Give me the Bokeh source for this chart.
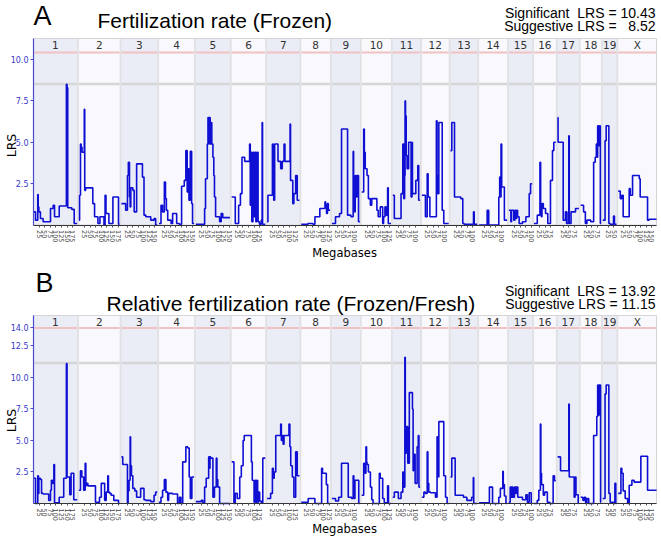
import math
from bokeh.plotting import figure
from bokeh.models import Range1d, FixedTicker, Label, NumeralTickFormatter
from bokeh.layouts import column
from bokeh.embed import file_html
from bokeh.resources import INLINE
from bokeh.core.properties import value

# ---------------- data ----------------
chrom_names = ["1", "2", "3", "4", "5", "6", "7", "8", "9", "10",
               "11", "12", "13", "14", "15", "16", "17", "18", "19", "X"]
chrom_len = [195, 182, 160, 157, 152, 150, 145, 129, 125, 131,
             122, 120, 120, 125, 104, 98, 95, 91, 61, 171]

sig_frozen, sugg_frozen = 10.43, 8.52
sig_ratio, sugg_ratio = 13.92, 11.15

yticks_frozen = [2.5, 5.0, 7.5, 10.0]
yticks_ratio = [2.5, 5.0, 7.5, 10.0, 12.5, 14.0]

# Panel A: Fertilization rate (Frozen) -- marker position (Mb) and LRS per chromosome
frozen_pos = {
    "1": [0, 9, 19, 21, 24, 31, 43, 76, 88, 94, 115, 147, 150, 153, 171, 182],
    "2": [0, 3, 7, 10, 14, 22, 24, 26, 30, 62, 70, 85, 94, 112, 117, 121, 124, 134, 152, 177],
    "3": [0, 19, 27, 31, 36, 39, 42, 51, 57, 68, 94, 101, 109, 131, 146, 153],
    "4": [0, 9, 16, 24, 29, 33, 39, 54, 61, 79, 91, 101, 113, 120, 126, 130, 134, 140, 146, 150],
    "5": [0, 39, 43, 51, 54, 57, 60, 64, 69, 71, 76, 80, 83, 88, 106, 113, 120, 128],
    "6": [0, 16, 31, 39, 46, 58, 80, 83, 86, 90, 95, 100, 104, 108, 112, 118, 124, 132, 136, 138],
    "7": [0, 4, 24, 27, 30, 34, 49, 61, 68, 76, 80, 103, 105, 108, 115, 120, 128, 135],
    "8": [0, 30, 52, 61, 68, 83, 91, 106, 109, 113, 117, 121],
    "9": [0, 16, 25, 34, 43, 70, 85, 95, 97, 101, 104, 108, 112, 119],
    "10": [0, 9, 12, 16, 24, 30, 39, 45, 68, 74, 83, 94, 98, 104, 110, 116, 119],
    "11": [0, 7, 15, 37, 45, 49, 53, 55, 57, 60, 64, 71, 82, 86, 88, 94, 103, 112, 116],
    "12": [0, 16, 24, 28, 36, 65, 68, 71, 76, 91, 98],
    "13": [0, 6, 18, 28, 46, 55, 61, 103, 106],
    "14": [0, 36, 43, 88, 92, 95, 98, 101, 106, 113],
    "15": [0, 9, 12, 16, 22, 27, 31, 35, 39, 46, 61, 76, 91, 97],
    "16": [0, 15, 27, 30, 33, 36, 42, 52, 62, 74, 83, 89],
    "17": [0, 2, 25, 35, 40, 48, 50, 52, 60, 70, 80],
    "18": [0, 13, 21, 28, 45, 58, 65, 70, 73, 76, 80, 84, 88],
    "19": [0, 10, 15, 27, 33, 48, 52],
    "X": [0, 9, 16, 22, 49, 54, 64, 94, 98, 131, 138],
}
frozen_lrs = {
    "1": [0.8, 0.3, 1.85, 1.1, 0.8, 0.4, 0.2, 1.0, 1.2, 0.5, 1.15, 8.5, 8.3, 1.05, 0.95, 0.1],
    "2": [0.3, 1.8, 4.9, 4.7, 4.4, 4.4, 7.0, 2.1, 2.25, 1.3, 0.5, 0.1, 0.5, 0.0, 1.8, 0.7, 0.7, 0.1, 1.7, 0.05],
    "3": [1.3, 0.9, 3.0, 3.8, 1.7, 1.1, 2.25, 2.1, 0.8, 3.7, 2.9, 0.6, 0.5, 0.3, 0.4, 0.0],
    "4": [0.1, 1.2, 0.8, 2.6, 1.6, 0.9, 0.3, 0.1, 0.7, 0.1, 0.05, 2.35, 2.7, 4.5, 2.0, 3.4, 1.5, 4.45, 1.3, 0.1],
    "5": [0.05, 1.0, 2.8, 4.9, 6.5, 4.9, 6.5, 4.9, 6.2, 4.9, 4.1, 3.0, 1.7, 0.5, 0.2, 0.7, 0.45, 0.45],
    "6": [1.7, 0.1, 1.2, 1.9, 4.1, 3.85, 4.9, 1.2, 4.4, 0.2, 4.4, 0.5, 4.4, 0.2, 4.4, 0.2, 0.05, 0.3, 6.2, 0.05],
    "7": [0.2, 1.8, 4.9, 2.7, 1.5, 4.9, 3.85, 3.4, 3.85, 4.9, 3.85, 6.1, 2.7, 2.7, 1.3, 1.9, 3.0, 1.5],
    "8": [0.05, 0.1, 0.05, 0.5, 0.5, 1.0, 1.0, 1.4, 1.2, 0.7, 1.3, 0.9],
    "9": [0.1, 0.5, 0.5, 0.7, 5.8, 0.6, 0.5, 4.45, 1.0, 0.8, 3.0, 1.7, 3.0, 0.2],
    "10": [2.0, 5.8, 4.4, 3.4, 3.0, 1.6, 1.2, 1.6, 0.9, 0.5, 1.1, 0.1, 0.5, 1.1, 0.6, 2.25, 0.1],
    "11": [1.8, 0.4, 0.4, 1.9, 4.9, 1.6, 3.0, 7.5, 6.6, 4.2, 3.4, 5.0, 1.7, 5.0, 1.9, 1.9, 2.7, 3.6, 1.5],
    "12": [1.8, 0.5, 3.1, 1.7, 0.5, 6.3, 3.0, 1.9, 6.2, 0.9, 0.1],
    "13": [4.5, 6.2, 1.7, 1.7, 1.6, 0.1, 0.05, 0.8, 0.05],
    "14": [0.0, 0.9, 0.0, 1.7, 2.9, 1.7, 4.9, 2.3, 2.3, 0.3],
    "15": [0.9, 0.2, 0.9, 0.9, 0.3, 0.9, 0.4, 0.9, 0.5, 0.1, 0.2, 0.5, 1.9, 2.5],
    "16": [0.1, 0.6, 3.8, 1.3, 0.5, 1.3, 1.0, 0.7, 0.1, 2.7, 4.5, 5.0],
    "17": [6.5, 5.0, 0.3, 0.8, 0.1, 0.8, 5.4, 0.1, 0.8, 0.8, 1.0],
    "18": [1.2, 0.8, 0.1, 0.3, 0.2, 3.8, 4.1, 4.9, 4.1, 6.0, 4.8, 6.0, 0.1],
    "19": [0.3, 5.1, 6.0, 0.1, 0.05, 0.55, 0.05],
    "X": [2.05, 1.6, 1.8, 0.5, 2.2, 1.8, 3.0, 2.8, 1.7, 0.3, 0.35],
}

# Panel B: Relative fertilization rate (Frozen/Fresh)
ratio_pos = {
    "1": [0, 9, 19, 22, 24, 31, 36, 43, 68, 76, 80, 85, 91, 94, 115, 135, 147, 150, 162, 168, 180],
    "2": [0, 7, 13, 21, 28, 31, 33, 40, 74, 92, 100, 115, 122, 129, 132, 137, 144, 156, 177],
    "3": [0, 6, 27, 30, 34, 39, 41, 45, 51, 60, 68, 86, 101, 109, 131, 146, 153],
    "4": [0, 9, 16, 24, 31, 39, 43, 61, 83, 91, 98, 106, 120, 128, 135, 140, 147],
    "5": [0, 24, 31, 39, 46, 57, 60, 63, 66, 76, 83, 91, 94, 98, 106],
    "6": [0, 10, 16, 25, 36, 43, 51, 56, 88, 92, 97, 100, 104, 108, 112, 116, 120, 125, 132, 139],
    "7": [0, 16, 24, 28, 32, 39, 61, 64, 68, 72, 76, 98, 102, 106, 113, 120, 128, 135],
    "8": [0, 31, 61, 91, 95, 106, 112, 118],
    "9": [0, 16, 30, 43, 73, 88, 95, 98, 103, 110, 120],
    "10": [0, 9, 15, 19, 22, 24, 30, 39, 45, 51, 79, 83, 94, 101, 116, 120],
    "11": [0, 7, 25, 37, 45, 49, 54, 56, 61, 67, 74, 84, 88, 91, 94, 100, 109, 114, 117],
    "12": [0, 9, 16, 24, 27, 31, 39, 61, 68, 71, 74, 76, 98, 106, 113],
    "13": [0, 6, 21, 58, 73, 95, 102, 104],
    "14": [0, 46, 60, 88, 95, 106, 108, 113, 120],
    "15": [0, 6, 10, 14, 18, 25, 31, 35, 40, 46, 61, 76, 83, 91, 100],
    "16": [0, 15, 22, 29, 31, 34, 42, 48, 60, 71, 86, 92],
    "17": [0, 13, 50, 52, 70, 74, 78, 82, 92],
    "18": [0, 10, 16, 22, 28, 36, 58, 72, 76, 79, 82, 89],
    "19": [0, 10, 15, 27, 33, 48, 54, 58],
    "X": [0, 12, 16, 22, 31, 42, 49, 61, 71, 101, 131],
}
ratio_lrs = {
    "1": [2.0, 0.0, 2.2, 0.8, 2.0, 1.9, 0.8, 0.75, 0.25, 1.05, 1.85, 1.6, 3.1, 0.05, 0.5, 2.0, 11.1, 2.1, 0.7, 2.4, 0.3],
    "2": [1.05, 2.6, 2.1, 1.05, 3.2, 1.4, 1.6, 1.4, 0.1, 0.5, 1.6, 0.25, 0.9, 2.2, 0.9, 0.8, 0.65, 0.25, 0.0],
    "3": [3.7, 3.1, 0.05, 1.0, 1.85, 5.3, 3.0, 2.2, 1.2, 1.0, 0.5, 1.2, 0.3, 0.25, 0.15, 0.65, 0.9],
    "4": [0.1, 0.5, 1.05, 1.9, 0.9, 0.25, 0.8, 0.75, 0.0, 0.5, 0.0, 3.3, 4.5, 4.4, 2.1, 0.4, 2.1],
    "5": [0.15, 0.25, 0.05, 1.3, 2.0, 3.7, 2.8, 3.7, 3.6, 0.5, 1.3, 3.6, 1.9, 1.3, 0.0],
    "6": [3.3, 0.0, 0.8, 0.4, 2.1, 3.0, 5.0, 5.4, 3.3, 1.85, 1.8, 0.1, 1.85, 0.1, 1.85, 0.1, 0.9, 0.2, 0.05, 3.6],
    "7": [0.4, 0.8, 2.8, 2.0, 2.5, 5.4, 6.3, 5.0, 5.4, 4.7, 5.4, 6.3, 4.5, 3.0, 2.1, 0.5, 4.1, 2.2],
    "8": [0.1, 0.4, 0.0, 2.8, 2.4, 2.4, 1.5, 0.0],
    "9": [0.4, 0.2, 0.5, 3.2, 0.5, 0.4, 2.2, 0.4, 1.85, 1.85, 0.0],
    "10": [0.65, 3.2, 2.4, 4.5, 3.3, 3.1, 2.5, 1.3, 0.3, 0.0, 2.4, 2.0, 0.4, 0.05, 1.4, 0.0],
    "11": [0.5, 0.9, 0.4, 0.9, 2.5, 1.3, 11.6, 4.0, 6.1, 3.2, 8.8, 8.8, 7.5, 2.6, 3.9, 1.6, 4.5, 5.4, 1.3],
    "12": [0.5, 0.9, 0.8, 4.1, 1.6, 0.9, 0.85, 0.5, 5.3, 3.7, 2.1, 6.5, 2.2, 0.5, 0.0],
    "13": [2.1, 3.6, 0.65, 0.5, 0.25, 0.5, 2.05, 0.0],
    "14": [0.05, 1.3, 0.0, 0.5, 1.2, 2.55, 1.5, 0.6, 0.0],
    "15": [0.1, 1.3, 0.5, 1.3, 0.5, 1.3, 0.8, 1.3, 0.5, 0.5, 0.3, 0.7, 0.1, 0.85, 0.0],
    "16": [0.0, 0.25, 1.05, 6.3, 2.4, 1.5, 0.65, 0.9, 0.1, 0.0, 2.2, 1.8],
    "17": [3.7, 2.6, 7.9, 2.1, 2.1, 0.5, 2.1, 0.7, 0.0],
    "18": [0.5, 0.25, 0.5, 0.0, 0.4, 0.0, 5.4, 6.9, 9.4, 7.0, 9.4, 0.1],
    "19": [0.4, 8.7, 9.4, 0.8, 0.1, 0.0, 1.6, 0.0],
    "X": [0.8, 2.8, 2.4, 1.0, 0.4, 0.0, 1.45, 1.85, 1.7, 3.75, 1.05],
}

# ---------------- layout helpers ----------------
GAP = 8
offsets = []
acc = 0
for L in chrom_len:
    offsets.append(acc)
    acc += L + GAP
total = offsets[-1] + chrom_len[-1]
ends = [o + L for o, L in zip(offsets, chrom_len)]
mids = [(o + e) / 2 for o, e in zip(offsets, ends)]

xt, xt_labels = [], {}
for o, L in zip(offsets, chrom_len):
    for m in range(25, L, 25):
        xt.append(o + m)
        xt_labels[o + m] = str(m)

SHADE = "#EAECF6"
PLAIN = "#F9F9FD"
band_colors = [SHADE if i % 2 == 0 else PLAIN for i in range(len(chrom_names))]
LINE_BLUE = "#0F0FD4"
AXIS_BLUE = "#4B4BD2"

W = 661
PX_LEFT, PX_RIGHT = 33, 656          # plot-area edges in canvas pixels
sx = (PX_RIGHT - PX_LEFT) / total     # px per Mb


def make_panel(pos_d, lrs_d, sig, sugg, ytop, yticks, H, py_zero, py_top, letter, title,
               sig_txt, sugg_txt, pos_letter, pos_title, pos_sig, pos_sugg, pos_lrs, pos_mb):
    ky = (py_zero - py_top) / ytop    # px per LRS unit
    x_range = Range1d(-PX_LEFT / sx, total + (W - PX_RIGHT) / sx)
    y_range = Range1d(-(H - py_zero) / ky, ytop + py_top / ky)
    p = figure(width=W, height=H, x_range=x_range, y_range=y_range,
               output_backend="svg", toolbar_location=None, min_border=0)
    p.title.visible = False
    p.background_fill_color = "white"
    p.border_fill_color = "white"
    p.outline_line_color = None
    p.xgrid.visible = False
    p.ygrid.visible = False

    # plot area: grey separators, chromosome bands, threshold lines, header numbers
    p.quad(left=[0], right=[total], bottom=[0], top=[ytop], fill_color="#E1E1E4", line_color=None)
    p.quad(left=offsets, right=ends, bottom=0, top=ytop, fill_color=band_colors, line_color=None)
    p.segment(x0=offsets, x1=ends, y0=[sugg] * len(offsets), y1=[sugg] * len(offsets),
              line_color="#D6D6D9", line_width=2.5)
    p.segment(x0=offsets, x1=ends, y0=[sig] * len(offsets), y1=[sig] * len(offsets),
              line_color="#F0C2C2", line_width=2)
    p.quad(left=[0], right=[total], bottom=[0], top=[ytop], fill_color=None,
           line_color="#D5D5D8", line_width=1)
    p.text(x=mids, y=[(sig + ytop) / 2] * len(mids), text=chrom_names, text_align="center",
           text_baseline="middle", text_font=value("DejaVu Sans"), text_font_size="10.5px",
           text_color="#333333")

    for name, o, L in zip(chrom_names, offsets, chrom_len):
        xs = [o + v for v in pos_d[name]] + [o + L]
        ys = list(lrs_d[name]) + [lrs_d[name][-1]]
        p.step(xs, ys, mode="after", line_color=LINE_BLUE, line_width=1.6)

    # axes placed at the plot-area edges
    p.yaxis.fixed_location = 0
    p.yaxis.bounds = (0, ytop)
    p.yaxis.ticker = FixedTicker(ticks=yticks, minor_ticks=[])
    p.yaxis.formatter = NumeralTickFormatter(format="0.0")
    p.yaxis.axis_line_color = AXIS_BLUE
    p.yaxis.axis_line_width = 1.2
    p.yaxis.major_tick_line_color = AXIS_BLUE
    p.yaxis.major_tick_out = 3
    p.yaxis.major_tick_in = 0
    p.yaxis.major_label_text_color = "#3838CC"
    p.yaxis.major_label_text_font = "DejaVu Sans"
    p.yaxis.major_label_text_font_size = "8px"
    p.yaxis.major_label_standoff = 2

    p.xaxis.fixed_location = 0
    p.xaxis.bounds = (0, total)
    p.xaxis.ticker = FixedTicker(ticks=xt, minor_ticks=[])
    p.xaxis.major_label_overrides = xt_labels
    p.xaxis.major_label_orientation = -math.pi / 2
    p.xaxis.major_label_text_font = "DejaVu Sans"
    p.xaxis.major_label_text_font_size = "6.5px"
    p.xaxis.major_label_text_color = "#444444"
    p.xaxis.major_label_standoff = 3
    p.xaxis.major_tick_out = 2
    p.xaxis.major_tick_in = 0
    p.xaxis.major_tick_line_color = "#555555"
    p.xaxis.axis_line_color = "#333333"

    def lab(xy, text, size, font="Liberation Sans", align="left", angle=0.0, baseline_given=True):
        # xy given as (x, text baseline) for horizontal Arial text; converted to middle
        xp, yp = xy
        ym = yp - 0.35 * size if baseline_given else yp
        p.add_layout(Label(x=xp, y=ym, x_units="canvas", y_units="canvas",
                           text=text, text_font=font, text_font_size=f"{size}px",
                           text_align=align, text_baseline="middle", angle=angle,
                           text_color="black"))

    lab(pos_letter, letter, 27)
    lab(pos_title, title, 21)
    lab(pos_sig, sig_txt, 14, align="right")
    lab(pos_sugg, sugg_txt, 14, align="right")
    lab(pos_lrs, "LRS", 12.5, font="DejaVu Sans", align="center", angle=math.pi / 2, baseline_given=False)
    lab(pos_mb, "Megabases", 11.5, font="DejaVu Sans", align="center", baseline_given=False)
    return p


pA = make_panel(frozen_pos, frozen_lrs, sig_frozen, sugg_frozen, 11.27, yticks_frozen,
                H=262, py_zero=224.6, py_top=38, letter="A",
                title="Fertilization rate (Frozen)",
                sig_txt="Significant\u00a0 LRS = 10.43", sugg_txt="Suggestive LRS =\u00a0\u00a0 8.52",
                pos_letter=(33, 25), pos_title=(97, 27), pos_sig=(655, 17), pos_sugg=(655, 30),
                pos_lrs=(11, 145), pos_mb=(344, 252))

pB = make_panel(ratio_pos, ratio_lrs, sig_ratio, sugg_ratio, 14.92, yticks_ratio,
                H=274, py_zero=241, py_top=53, letter="B",
                title="Relative fertilization rate (Frozen/Fresh)",
                sig_txt="Significant\u00a0 LRS = 13.92", sugg_txt="Suggestive LRS = 11.15",
                pos_letter=(35, 30), pos_title=(106, 48), pos_sig=(655, 33), pos_sugg=(655, 46),
                pos_lrs=(11, 158), pos_mb=(344, 266))

layout = column(pA, pB)
open("out.html", "w").write(file_html(layout, INLINE))
